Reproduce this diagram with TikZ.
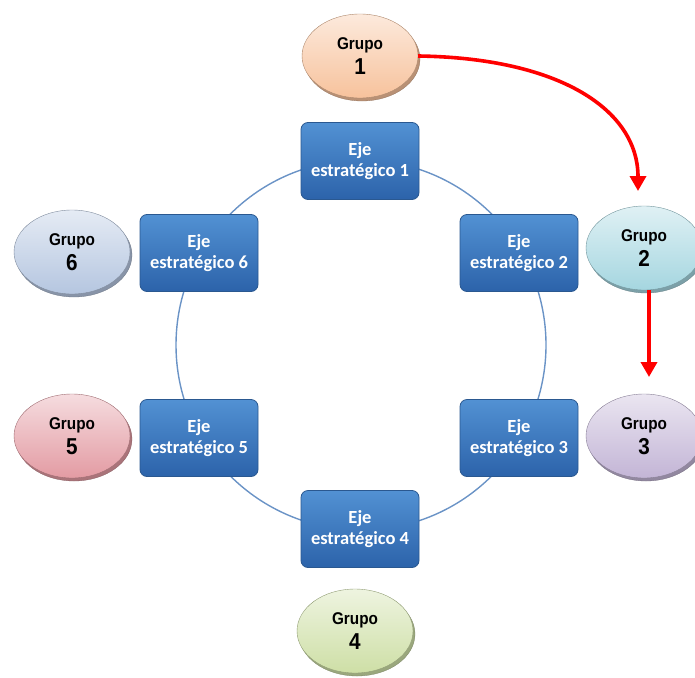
\documentclass[tikz,border=0pt]{standalone}
\usepackage{fontspec}
\setmainfont{Liberation Sans}
\newfontfamily\ejefont{Carlito}
\newfontfamily\grpfont[FakeStretch=0.9]{Liberation Sans}
\usetikzlibrary{shapes.geometric,arrows.meta}
\definecolor{boxtop}{HTML}{5291D3}
\definecolor{boxbot}{HTML}{2C63AA}
\definecolor{boxline}{HTML}{2A5890}
\definecolor{ringc}{HTML}{6A93C6}
\definecolor{arrred}{HTML}{FF0000}
\tikzset{
  ejebox/.style={draw=boxline, line width=0.8pt, rounded corners=7pt,
    top color=boxtop, bottom color=boxbot, minimum width=118pt, minimum height=77pt,
    text=white, align=center, font=\ejefont\bfseries\fontsize{18.5}{21}\selectfont},
  grp/.style={ellipse, draw=#1!70!black, line width=0.4pt, minimum width=116pt, minimum height=84pt,
    inner sep=0pt, align=center, text=black},
  grpshadow/.style={ellipse, fill=#1!75!black, draw=#1!60!black, line width=0.3pt,
    minimum width=116pt, minimum height=84pt},
  redarrow/.style={draw=arrred, line width=3.6pt, -{Triangle[length=15pt,width=16pt]}}
}
\newcommand{\grplabel}[1]{{\grpfont\bfseries\fontsize{17}{18}\selectfont Grupo}\\[5pt]{\grpfont\bfseries\fontsize{23}{22}\selectfont #1}}
\begin{document}
\begin{tikzpicture}[x=1pt,y=-1pt]
\useasboundingbox (0,0) rectangle (695,677);
% ring
\node[circle, draw=ringc, line width=1.4pt, minimum size=370pt] (ring) at (361,345) {};
% boxes
\node[ejebox] (e1) at (360,161) {Eje\\estratégico 1};
\node[ejebox] (e2) at (519,253) {Eje\\estratégico 2};
\node[ejebox] (e3) at (519,438) {Eje\\estratégico 3};
\node[ejebox] (e4) at (360,529) {Eje\\estratégico 4};
\node[ejebox] (e5) at (199,438) {Eje\\estratégico 5};
\node[ejebox] (e6) at (199,253) {Eje\\estratégico 6};
% group ellipses
\definecolor{g1c}{HTML}{F7C29C}
\definecolor{g2c}{HTML}{A5D6E0}
\definecolor{g3c}{HTML}{C3B5D6}
\definecolor{g4c}{HTML}{CEDFA6}
\definecolor{g5c}{HTML}{E39BA3}
\definecolor{g6c}{HTML}{B5C6E0}
\foreach \n/\x/\y in {1/360/56, 2/644/248, 3/644/436, 4/355/631, 5/72/436, 6/72/252}{
  \node[grpshadow=g\n c] (s\n) at (\x+2,\y+3) {};
}
\node[grp=g1c, top color=g1c!35!white, bottom color=g1c] (g1) at (360,56) {\grplabel{1}};
\node[grp=g2c, top color=g2c!35!white, bottom color=g2c] (g2) at (644,248) {\grplabel{2}};
\node[grp=g3c, top color=g3c!35!white, bottom color=g3c] (g3) at (644,436) {\grplabel{3}};
\node[grp=g4c, top color=g4c!35!white, bottom color=g4c] (g4) at (355,631) {\grplabel{4}};
\node[grp=g5c, top color=g5c!35!white, bottom color=g5c] (g5) at (72,436) {\grplabel{5}};
\node[grp=g6c, top color=g6c!35!white, bottom color=g6c] (g6) at (72,252) {\grplabel{6}};
% arrows
\coordinate (a1end) at (638,191);
\coordinate (a2end) at (649,377);
\draw[redarrow] (g1.east) .. controls (560,58) and (638,110) .. (a1end);
\draw[redarrow] (g2.south -| a2end) -- (a2end);
\end{tikzpicture}
\end{document}
